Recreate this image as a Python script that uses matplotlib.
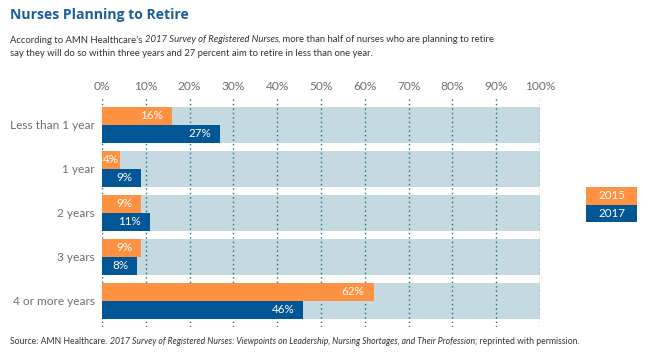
import matplotlib
matplotlib.use("Agg")
import matplotlib.pyplot as plt
from matplotlib.patches import Rectangle

categories = ["Less than 1 year", "1 year", "2 years", "3 years", "4 or more years"]
values_2015 = [16, 4, 9, 9, 62]
values_2017 = [27, 9, 11, 8, 46]
series_names = ["2015", "2017"]
x_ticks = [0, 10, 20, 30, 40, 50, 60, 70, 80, 90, 100]

title = "Nurses Planning to Retire"
subtitle1 = [("According to AMN Healthcare\u2019s ", "normal"),
             ("2017 Survey of Registered Nurses", "italic"),
             (", more than half of nurses who are planning to retire", "normal")]
subtitle2 = [("say they will do so within three years and 27 percent aim to retire in less than one year.", "normal")]
footer = [("Source: AMN Healthcare. ", "normal"),
          ("2017 Survey of Registered Nurses: Viewpoints on Leadership, Nursing Shortages, and Their Profession", "italic"),
          ("; reprinted with permission.", "normal")]

ORANGE = "#FF9142"
BLUE = "#015695"
BG = "#C5D9E1"
GRID = "#1D6E8A"
TITLE = "#1B5E9B"
GRAY = "#6E6E6E"
DARK = "#333333"

plt.rcParams['font.family'] = ['Lato', 'DejaVu Sans']
NARROW = ['Liberation Sans Narrow', 'Lato', 'DejaVu Sans']

W, H = 656, 359
fig = plt.figure(figsize=(W / 100, H / 100), dpi=100)
renderer = fig.canvas.get_renderer()


def fx(px):
    return px / W


def fy(py):
    return 1 - py / H


def rich_line(x_px, y_px, parts, size, color, weight='normal', family=None):
    x = x_px
    texts = []
    for s, style in parts:
        t = fig.text(fx(x), fy(y_px), s, fontsize=size, fontstyle=style, color=color,
                     fontweight=weight, va='center', ha='left', family=family)
        bb = t.get_window_extent(renderer)
        x = x + bb.width
        texts.append(t)
    return texts, x - x_px


def fitted_line(x_px, y_px, parts, target_w, color, size0=9.0, weight='normal', family=None):
    texts, w = rich_line(x_px, y_px, parts, size0, color, weight, family)
    for t in texts:
        t.remove()
    size = size0 * target_w / w
    rich_line(x_px, y_px, parts, size, color, weight, family)
    return size


# Title and subtitle
fitted_line(10, 15, [(title, "normal")], 178, TITLE, 12.0, weight='bold', family=['Open Sans', 'Lato'])
s = fitted_line(10, 40, subtitle1, 487, DARK, 8.0, family=NARROW)
rich_line(10, 54, subtitle2, s, DARK, family=NARROW)

# Axes
ax_top, ax_bot = 98, 327
ax = fig.add_axes([fx(102), fy(ax_bot), (540 - 102) / W, (ax_bot - ax_top) / H])
pitch = 44.0
center0 = 124.7
ax.set_xlim(0, 100)
ax.set_ylim((ax_bot - center0) / pitch, (ax_top - center0) / pitch)

bh = 18 / pitch
n = len(categories)
for i in range(n):
    ax.add_patch(Rectangle((0, i - bh), 100, 2 * bh, facecolor=BG, edgecolor='none', zorder=1))

for t in x_ticks:
    ax.axvline(t, color=GRID, linestyle=(0, (1, 2.2)), linewidth=1.0, zorder=2)

ax.barh([i - bh / 2 for i in range(n)], values_2015, height=bh, color=ORANGE, zorder=3)
ax.barh([i + bh / 2 for i in range(n)], values_2017, height=bh, color=BLUE, zorder=3)

for i in range(n):
    for v, yy in ((values_2015[i], i - bh / 2), (values_2017[i], i + bh / 2)):
        if v < 6:
            ax.annotate(f"{v}%", (0, yy), xytext=(1, 0), textcoords='offset pixels',
                        ha='left', va='center', color='white', fontsize=8.4, zorder=4)
        else:
            ax.annotate(f"{v}%", (v, yy), xytext=(-9, 0), textcoords='offset pixels',
                        ha='right', va='center', color='white', fontsize=8.4, zorder=4)

ax.xaxis.tick_top()
ax.set_xticks(x_ticks)
ax.set_xticklabels([f"{t}%" for t in x_ticks], color=GRAY, fontsize=8.6)
ax.tick_params(axis='x', length=0, pad=4)
ax.set_yticks(range(n))
ax.set_yticklabels(categories, color=GRAY, fontsize=8.6)
ax.tick_params(axis='y', length=0, pad=5)
for sp in ax.spines.values():
    sp.set_visible(False)
ax.patch.set_alpha(0)

# Legend boxes
lax = fig.add_axes([fx(586), fy(222), (637 - 586) / W, (222 - 187) / H])
lax.set_xlim(0, 1)
lax.set_ylim(0, 2)
lax.add_patch(Rectangle((0, 1), 1, 1, facecolor=ORANGE, edgecolor='none'))
lax.add_patch(Rectangle((0, 0), 1, 1, facecolor=BLUE, edgecolor='none'))
lax.text(0.5, 1.5, series_names[0], color='white', ha='center', va='center', fontsize=8.4)
lax.text(0.5, 0.5, series_names[1], color='white', ha='center', va='center', fontsize=8.4)
lax.axis('off')

# Footer
fitted_line(10, 342, footer, 563, DARK, 5.6, family=NARROW)

fig.savefig("out.png", dpi=100)
